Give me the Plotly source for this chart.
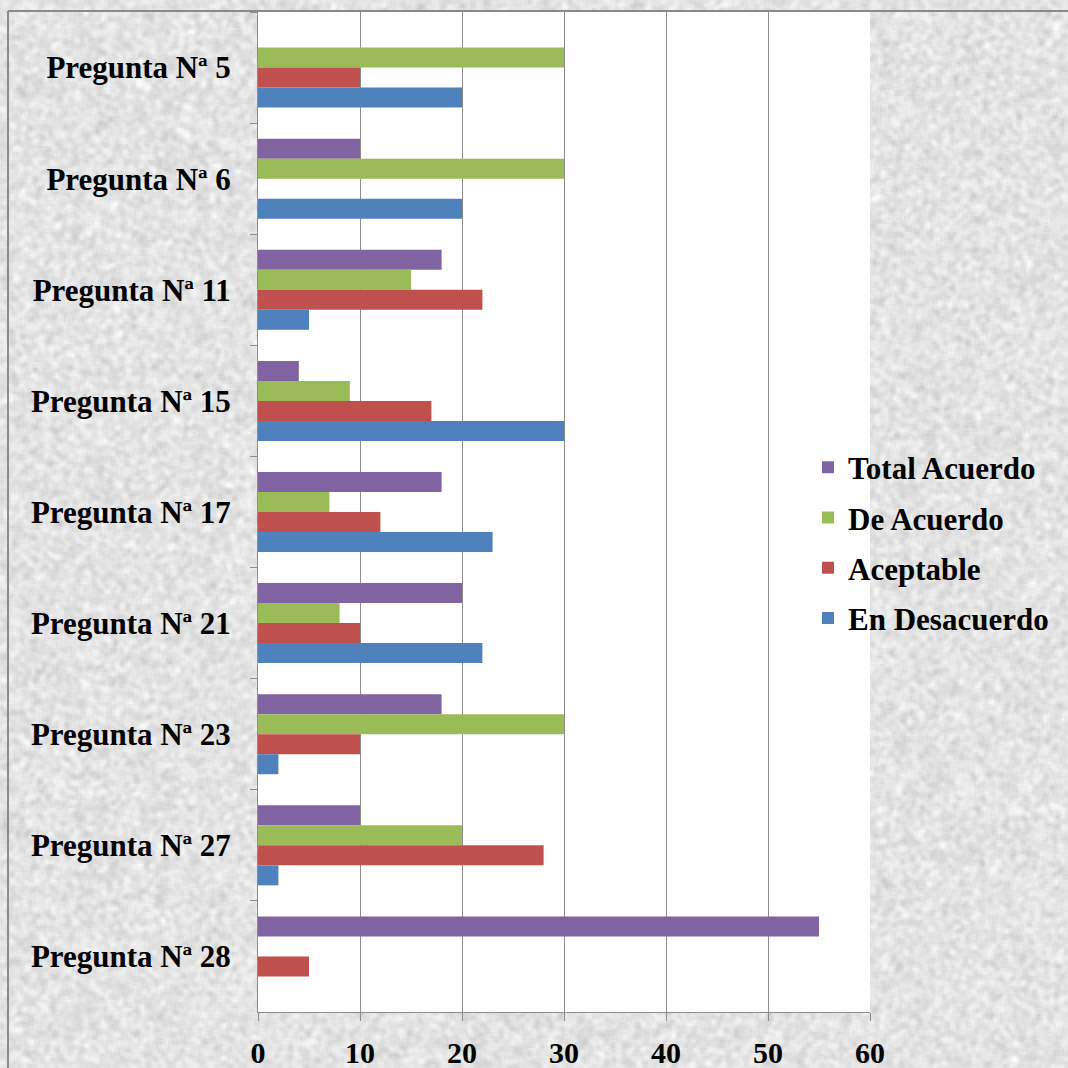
import base64
import struct
import zlib

import numpy as np
import plotly.graph_objects as go

# Survey answers per question (counts)
preguntas = [
    "Pregunta Nª 5", "Pregunta Nª 6", "Pregunta Nª 11", "Pregunta Nª 15",
    "Pregunta Nª 17", "Pregunta Nª 21", "Pregunta Nª 23", "Pregunta Nª 27",
    "Pregunta Nª 28",
]
total_acuerdo = [0, 10, 18, 4, 18, 20, 18, 10, 55]
de_acuerdo = [30, 30, 15, 9, 7, 8, 30, 20, 0]
aceptable = [10, 0, 22, 17, 12, 10, 10, 28, 5]
en_desacuerdo = [20, 20, 5, 30, 23, 22, 2, 2, 0]
x_ticks = [0, 10, 20, 30, 40, 50, 60]

series = [
    ("Total Acuerdo", total_acuerdo, "#8064A2"),
    ("De Acuerdo", de_acuerdo, "#9BBB59"),
    ("Aceptable", aceptable, "#C0504D"),
    ("En Desacuerdo", en_desacuerdo, "#4F81BD"),
]

W = H = 1068
L, R, T, B = 258, 198, 12, 56
FONT = "Liberation Serif"


def paper_texture(size=534, seed=11):
    """Light grey stone-like texture encoded as a grayscale PNG data URI."""
    rng = np.random.default_rng(seed)
    n = rng.normal(0.0, 1.0, (size, size))
    k = np.ones(3) / 3.0
    n = np.apply_along_axis(lambda r: np.convolve(r, k, mode="same"), 1, n)
    n = np.apply_along_axis(lambda c: np.convolve(c, k, mode="same"), 0, n)
    img = np.clip(228 + n * 22, 175, 254).astype(np.uint8)
    raw = b"".join(b"\x00" + row.tobytes() for row in img)

    def chunk(tag, data):
        c = struct.pack(">I", len(data)) + tag + data
        return c + struct.pack(">I", zlib.crc32(tag + data) & 0xFFFFFFFF)

    png = b"\x89PNG\r\n\x1a\n"
    png += chunk(b"IHDR", struct.pack(">IIBBBBB", size, size, 8, 0, 0, 0, 0))
    png += chunk(b"IDAT", zlib.compress(raw, 9))
    png += chunk(b"IEND", b"")
    return "data:image/png;base64," + base64.b64encode(png).decode()


fig = go.Figure()
for name, vals, color in series:
    fig.add_trace(go.Bar(
        y=preguntas, x=vals, name=name, orientation="h",
        marker=dict(color=color, line=dict(width=0)),
        legendgroup=name,
    ))

pw = W - L - R
ph = H - T - B


def px_x(p):
    return (p - L) / pw


def px_y(p):
    return 1 - (p - T) / ph


fig.update_layout(
    width=W, height=H,
    margin=dict(l=L, r=R, t=T, b=B, pad=0, autoexpand=False),
    paper_bgcolor="#e0e0e0",
    plot_bgcolor="white",
    barmode="group",
    bargap=0.28,
    bargroupgap=0,
    font=dict(family=FONT, color="black"),
    showlegend=True,
    legend=dict(
        x=px_x(808), y=px_y(543), xanchor="left", yanchor="middle",
        bgcolor="rgba(0,0,0,0)", borderwidth=0,
        font=dict(family=FONT, size=31, color="black", weight="bold"),
        tracegroupgap=7,
        traceorder="grouped",
    ),
    xaxis=dict(
        range=[0, 60], tickvals=x_ticks, ticktext=[str(v) for v in x_ticks],
        showgrid=True, gridcolor="#8c8c8c", gridwidth=1,
        showline=True, linecolor="#8c8c8c", linewidth=1,
        zeroline=False,
        ticks="outside", ticklen=8, tickcolor="#8c8c8c",
        ticklabelstandoff=6,
        automargin=False,
        tickfont=dict(family=FONT, size=30, color="black", weight="bold"),
        fixedrange=True,
    ),
    yaxis=dict(
        type="category", autorange="reversed",
        showgrid=False,
        showline=True, linecolor="#8c8c8c", linewidth=1,
        ticks="outside", ticklen=7, tickcolor="#8c8c8c",
        tickson="boundaries",
        ticklabelstandoff=20,
        automargin=False,
        tickfont=dict(family=FONT, size=31, color="black", weight="bold"),
        fixedrange=True,
    ),
    images=[dict(
        source=paper_texture(), xref="paper", yref="paper",
        x=px_x(0), y=px_y(0), sizex=W / pw, sizey=H / ph,
        xanchor="left", yanchor="top", sizing="stretch", layer="below",
    )],
    shapes=[
        # white plotting area drawn over the textured backdrop
        dict(type="rect", xref="paper", yref="paper", x0=0, x1=1, y0=0, y1=1,
             fillcolor="white", line=dict(width=0), layer="below"),
        dict(type="line", xref="paper", yref="paper",
             x0=px_x(8), x1=px_x(W), y0=px_y(11), y1=px_y(11),
             line=dict(color="#8a8a8a", width=2)),
        dict(type="line", xref="paper", yref="paper",
             x0=px_x(8), x1=px_x(8), y0=px_y(11), y1=px_y(H),
             line=dict(color="#8a8a8a", width=2)),
    ],
)

fig.write_html("out.html")
